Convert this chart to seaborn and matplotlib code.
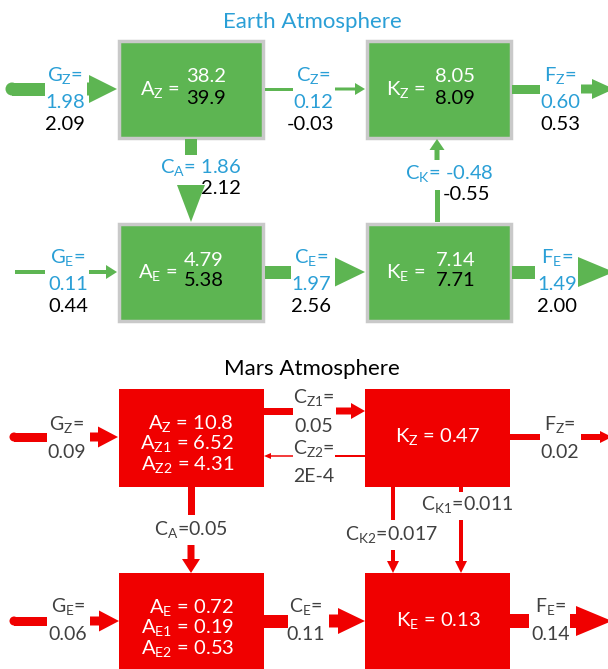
import numpy as np
import matplotlib.pyplot as plt
import seaborn as sns
from matplotlib.patches import Rectangle, FancyArrow, Circle, Polygon

sns.set_theme(style="white")
plt.rcParams['font.family'] = ['Lato', 'DejaVu Sans']

# ---- data ----
# Earth: first value (white in box / blue label), second value (black)
earth_res_names = ["A_Z", "K_Z", "A_E", "K_E"]
earth_res_first = ["38.2", "8.05", "4.79", "7.14"]
earth_res_second = ["39.9", "8.09", "5.38", "7.71"]
earth_flux_names = ["G_Z", "C_Z", "F_Z", "C_A", "C_K", "G_E", "C_E", "F_E"]
earth_flux_first = ["1.98", "0.12", "0.60", "1.86", "-0.48", "0.11", "1.97", "1.49"]
earth_flux_second = ["2.09", "-0.03", "0.53", "2.12", "-0.55", "0.44", "2.56", "2.00"]

# Mars
mars_res_names = ["A_Z", "K_Z", "A_E", "K_E"]
mars_res_sub_names = [["A_Z", "A_Z1", "A_Z2"], ["K_Z"], ["A_E", "A_E1", "A_E2"], ["K_E"]]
mars_res_values = [["10.8", "6.52", "4.31"], ["0.47"], ["0.72", "0.19", "0.53"], ["0.13"]]
mars_flux_names = ["G_Z", "C_Z1", "C_Z2", "F_Z", "C_A", "C_K2", "C_K1", "G_E", "C_E", "F_E"]
mars_flux_values = ["0.09", "0.05", "2E-4", "0.02", "0.05", "0.017", "0.011", "0.06", "0.11", "0.14"]

green = "#5db552"
blue = "#2a9fd6"
red = "#f00000"
grey = "#404040"


def sub(name):
    base, s = name.split("_")
    return base + r"$_\mathregular{" + s + "}$"


def arrow(ax, start, end, gap, w, hw, hl, color, round_start=False):
    # shaft from start, interrupted between gap[0] and gap[1] (distances), head at end
    p0 = np.array(start, float)
    p1 = np.array(end, float)
    d = p1 - p0
    L = np.hypot(*d)
    u = d / L
    n = np.array([-u[1], u[0]])
    s = p0
    if gap is not None:
        a = p0 + u * gap[0]
        ax.add_patch(Polygon([p0 + n * w / 2, a + n * w / 2, a - n * w / 2, p0 - n * w / 2],
                             closed=True, color=color, lw=0))
        s = p0 + u * gap[1]
    ax.add_patch(FancyArrow(s[0], s[1], *(p1 - s), width=w, head_width=hw, head_length=hl,
                            length_includes_head=True, color=color, lw=0))
    if round_start:
        ax.add_patch(Circle(p0, w / 2, color=color, lw=0))


fig = plt.figure(figsize=(6.08, 6.69), dpi=100)
ax = fig.add_axes([0, 0, 1, 1])
ax.set_xlim(0, 608)
ax.set_ylim(669, 0)
ax.axis("off")

fs_e = 14.5
fs_m = 14

# ================= Earth =================
ax.text(312, 22, "Earth Atmosphere", color=blue, fontsize=16, ha="center", va="center")

earth_boxes = {"A_Z": (117, 39), "K_Z": (365, 39), "A_E": (117, 222), "K_E": (365, 222)}
earth_text_x = {"A_Z": (160, 206), "K_Z": (406, 455), "A_E": (158, 204), "K_E": (406, 456)}
for name, v1, v2 in zip(earth_res_names, earth_res_first, earth_res_second):
    x, y = earth_boxes[name]
    ax.add_patch(Rectangle((x + 1.5, y + 1.5), 144, 97, facecolor=green,
                           edgecolor="#c9c9c9", lw=2.5))
    tx, vx = earth_text_x[name]
    cy = y + 50
    ax.text(tx, cy + 1, sub(name) + " =", color="white", fontsize=fs_e, ha="center", va="center")
    ax.text(vx, cy - 12, v1, color="white", fontsize=fs_e, ha="center", va="center")
    ax.text(vx, cy + 9, v2, color="black", fontsize=fs_e, ha="center", va="center")

# arrows: start, end, gap, shaft width, head width, head length, round start
earth_arrows = {
    "G_Z": ((12, 89), (117, 89), (33, 75), 13, 28, 28, True),
    "C_Z": ((265, 89), (365, 89), (28, 70), 3, 12, 10, False),
    "F_Z": ((512, 89), (614, 89), (28, 69), 9, 20, 22, False),
    "C_A": ((191, 139), (191, 222), (16, 46), 12, 28, 37, False),
    "C_K": ((437, 222), (437, 139), (32, 62), 5, 15, 11, False),
    "G_E": ((15, 272), (117, 272), (30, 74), 4, 14, 11, False),
    "C_E": ((265, 272), (365, 272), (26, 70), 13, 29, 30, False),
    "F_E": ((512, 272), (614, 272), (23, 66), 13, 30, 36, False),
}
for name in earth_flux_names:
    st, en, gp, w, hw, hl, rnd = earth_arrows[name]
    arrow(ax, st, en, gp, w, hw, hl, green, rnd)

# stacked labels: name= / first / second
earth_label_pos = {"G_Z": (65, 76), "C_Z": (313, 76), "F_Z": (560, 76),
                   "G_E": (68, 258), "C_E": (311, 258), "F_E": (557, 258)}
for name, v1, v2 in zip(earth_flux_names, earth_flux_first, earth_flux_second):
    if name in earth_label_pos:
        x, y = earth_label_pos[name]
        ax.text(x, y, sub(name) + "=", color=blue, fontsize=fs_e, ha="center", va="center")
        ax.text(x, y + 27, v1, color=blue, fontsize=fs_e, ha="center", va="center")
        ax.text(x - (3 if v2.startswith("-") else 0), y + 49, v2, color="black",
                fontsize=fs_e, ha="center", va="center")

# vertical conversion labels
earth_vlabel_pos = {"C_A": ((201, 168), (221, 188)), "C_K": ((449, 174), (467, 194))}
for name, v1, v2 in zip(earth_flux_names, earth_flux_first, earth_flux_second):
    if name in earth_vlabel_pos:
        (x1, y1), (x2, y2) = earth_vlabel_pos[name]
        ax.text(x1, y1, sub(name) + "= " + v1, color=blue, fontsize=fs_e, ha="center", va="center")
        ax.text(x2, y2, v2, color="black", fontsize=fs_e, ha="center", va="center")

# ================= Mars =================
ax.text(312, 369, "Mars Atmosphere", color="black", fontsize=16, ha="center", va="center")

mars_boxes = {"A_Z": (119, 389, 98), "K_Z": (365, 389, 98), "A_E": (119, 573, 110), "K_E": (365, 573, 110)}
for name, subs, vals in zip(mars_res_names, mars_res_sub_names, mars_res_values):
    x, y, h = mars_boxes[name]
    ax.add_patch(Rectangle((x, y), 145, h, facecolor=red, edgecolor="none"))
    if len(vals) == 1:
        ax.text(x + 73, y + 48, sub(subs[0]) + " = " + vals[0], color="white",
                fontsize=fs_m + 0.5, ha="center", va="center")
    else:
        for i, (s, v) in enumerate(zip(subs, vals)):
            ax.text(x + 115, y + 35 + 20.5 * i, sub(s) + " = " + v, color="white",
                    fontsize=fs_m + 0.5, ha="right", va="center")

mars_arrows = {
    "G_Z": ((14, 437), (118, 437), (33, 76), 9, 21, 20, True),
    "C_Z1": ((264, 411), (365, 411), (29, 72), 7, 16, 14, False),
    "C_Z2": ((365, 456), (264, 456), (30, 72), 1.5, 6, 7, False),
    "F_Z": ((510, 437), (612, 437), (30, 71), 6, 12, 12, False),
    "C_A": ((191, 487), (191, 573), (28, 58), 7, 18, 14, False),
    "C_K2": ((393, 487), (393, 573), (33, 63), 4, 12, 12, False),
    "C_K1": ((461, 487), (461, 573), (5, 33), 4, 12, 12, False),
    "G_E": ((14, 621), (119, 621), (33, 76), 9, 21, 20, True),
    "C_E": ((264, 621), (365, 621), (24, 65), 13, 26, 27, False),
    "F_E": ((510, 621), (612, 621), (19, 60), 14, 30, 36, False),
}
for name in mars_flux_names:
    st, en, gp, w, hw, hl, rnd = mars_arrows[name]
    arrow(ax, st, en, gp, w, hw, hl, red, rnd)

mars_label_pos = {"G_Z": (67, 425), "C_Z1": (314, 398), "C_Z2": (314, 449), "F_Z": (560, 425),
                  "G_E": (68, 607), "C_E": (306, 607), "F_E": (551, 607)}
mars_inline_pos = {"C_A": (191, 530), "C_K2": (392, 535), "C_K1": (467, 505)}
for name, v in zip(mars_flux_names, mars_flux_values):
    if name in mars_label_pos:
        x, y = mars_label_pos[name]
        ax.text(x, y, sub(name) + "=", color=grey, fontsize=fs_m, ha="center", va="center")
        ax.text(x, y + 28, v, color=grey, fontsize=fs_m, ha="center", va="center")
    else:
        x, y = mars_inline_pos[name]
        ax.text(x, y, sub(name) + "=" + v, color=grey, fontsize=fs_m, ha="center", va="center")

fig.savefig("out.png", dpi=100)
